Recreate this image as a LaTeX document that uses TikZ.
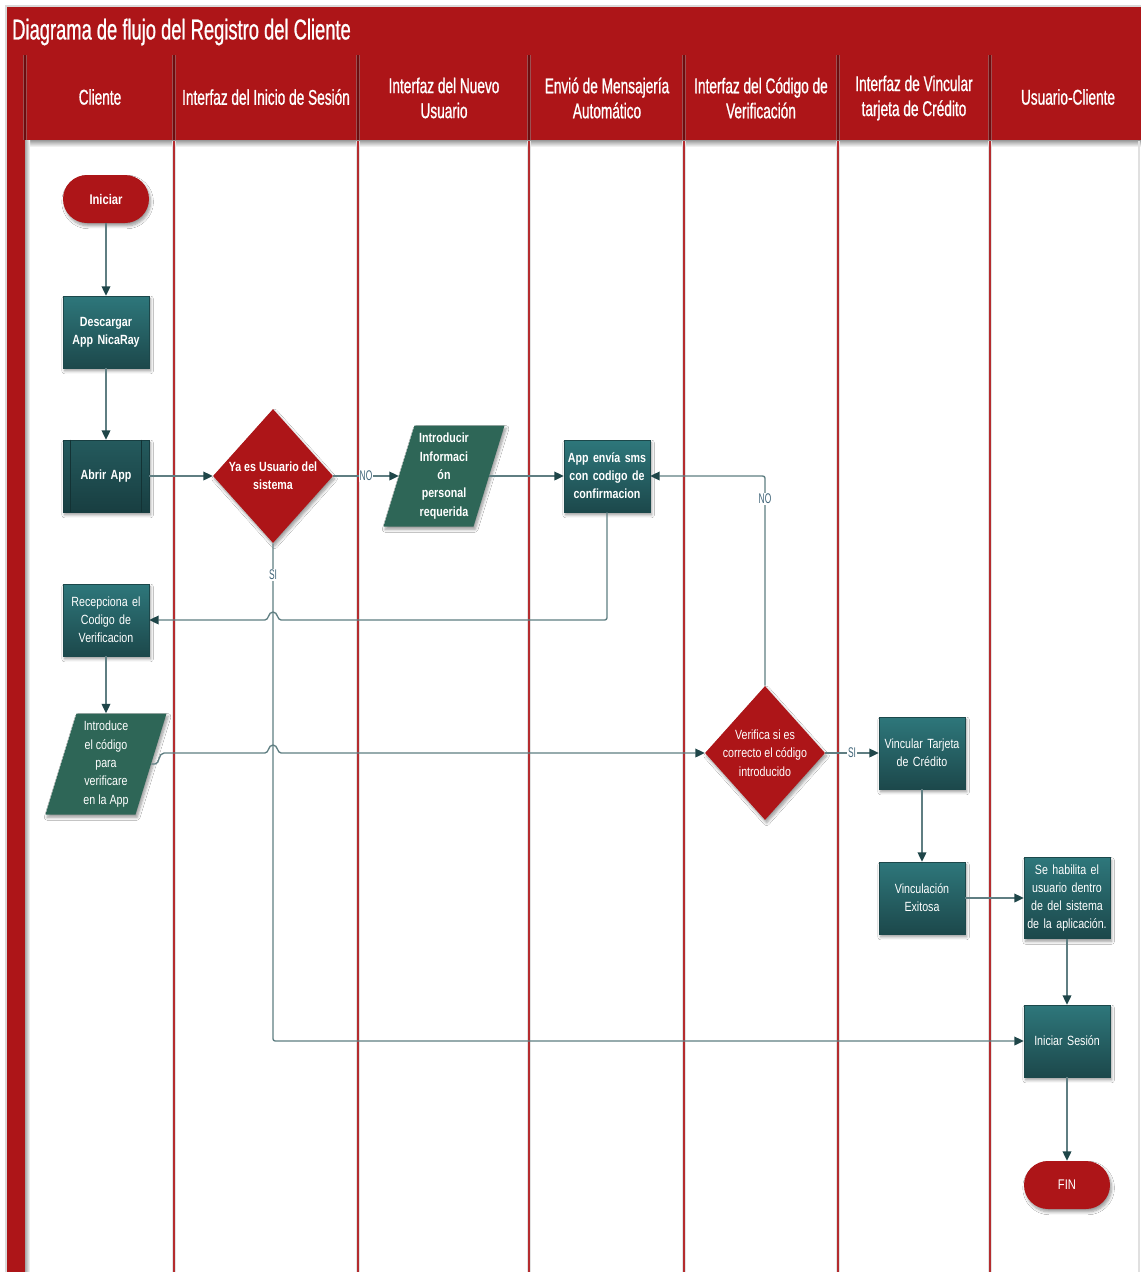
\documentclass[tikz,border=0pt]{standalone}
\usepackage{fontspec}
\setmainfont{Liberation Sans}[FakeStretch=0.8]
\newfontfamily\headfont{Liberation Sans}[FakeStretch=0.64, FakeBold=0.8]
\newfontfamily\labfont{Liberation Sans}[FakeStretch=0.6]
\usetikzlibrary{shapes.geometric,arrows.meta,shadows.blur}

\definecolor{lanered}{HTML}{AD1518}
\definecolor{sepred}{HTML}{6E0C0E}
\definecolor{tealtop}{HTML}{2E777B}
\definecolor{tealbot}{HTML}{1C484B}
\definecolor{proctop}{HTML}{245A5D}
\definecolor{procbot}{HTML}{183E41}
\definecolor{ioteal}{HTML}{2E6657}
\definecolor{linec}{HTML}{5F7E82}
\definecolor{tipc}{HTML}{1F4649}
\definecolor{labc}{HTML}{3F6478}

\tikzset{
  shadowed/.style={blur shadow={shadow xshift=1.2pt, shadow yshift=-2.2pt, shadow blur steps=6, shadow opacity=40}},
  procbox/.style={rectangle, shadowed, top color=tealtop, bottom color=tealbot, draw=tealbot, line width=0.4pt,
    minimum width=64.5pt, minimum height=54pt, text width=62pt, align=center, text=white, inner sep=0pt,
    font=\fontsize{10}{13.6}\selectfont},
  termbox/.style={rectangle, rounded corners=18pt, fill=lanered, shadowed, minimum width=64.5pt, minimum height=36pt,
    text=white, inner sep=0pt, font=\fontsize{10.5}{13.6}\selectfont},
  decbox/.style={diamond, fill=lanered, shadowed, minimum width=90pt, minimum height=100.5pt, inner sep=0pt},
  iobox/.style={rectangle, minimum width=67.5pt, minimum height=75.75pt, inner sep=0pt,
    text=white, align=center, font=\fontsize{10}{13.8}\selectfont},
  intext/.style={text=white, align=center, font=\fontsize{10}{13.8}\selectfont},
  intextb/.style={text=white, align=center, font=\fontsize{10}{13.8}\selectfont\bfseries},
  flow/.style={draw=linec, line width=1pt, -{Triangle[length=7pt, width=6.5pt, color=tipc, fill=tipc]}},
  flowlabel/.style={fill=white, text=labc, inner sep=0.6pt, font=\labfont\fontsize{10.5}{11}\selectfont},
  headtext/.style={text=white, align=center, font=\headfont\fontsize{16}{18.75}\selectfont},
  lanesep/.style={draw=lanered!90!white, line width=1pt},
  laneshade/.style={draw=black!11, line width=3pt},
  headsep/.style={draw=sepred, line width=1.2pt},
}

% slanted data shape centred at (#1,#2), in picture units
\newcommand\ioslant[2]{%
  \path[fill=ioteal, shadowed] (#1-60.5,#2+50.5) -- (#1+29.5,#2+50.5)
    -- (#1+60.5,#2-50.5) -- (#1-29.5,#2-50.5) -- cycle;}

\begin{document}
\begin{tikzpicture}[x=0.75pt, y=-0.75pt]
  \useasboundingbox (0,0) rectangle (1141,1272);
  \fill[white] (0,0) rectangle (1141,1272);

  % frame: soft outline, title bar, header band and left strip
  \draw[black!15, line width=2pt] (6,1272) -- (6,6) -- (1141,6);
  \fill[lanered] (7,7) rectangle (1141,140);
  \fill[lanered] (7,140) rectangle (25,1272);
  \shade[top color=black!40, bottom color=white] (25,140) rectangle (1141,147);
  \shade[left color=black!35, right color=white] (25,140) rectangle (30,1272);

  % swimlane separators
  \foreach \lx in {174,358,529,684,838,990} {
    \draw[laneshade] (\lx,141) -- (\lx,1272);
    \draw[lanesep] (\lx,141) -- (\lx,1272);
  }
  \draw[black!12, line width=2pt] (1139,141) -- (1139,1272);

  % header cell separators
  \foreach \lx in {25,174,358,529,684,838,990} {
    \draw[black!45, opacity=0.5, line width=3pt] (\lx,55) -- (\lx,140);
    \draw[headsep] (\lx,55) -- (\lx,140);
  }

  % title and lane headers
  \node[anchor=west, text=white, inner sep=0pt, font=\headfont\fontsize{21.5}{24}\selectfont] (title) at (12,32)
    {Diagrama de flujo del Registro del Cliente};
  \node[headtext] (h1) at (100,97) {Cliente};
  \node[headtext] (h2) at (266,97) {Interfaz del Inicio de Sesión};
  \node[headtext] (h3) at (444,98) {Interfaz del Nuevo\\Usuario};
  \node[headtext] (h4) at (607,98) {Envió de Mensajería\\Automático};
  \node[headtext] (h5) at (761,98) {Interfaz del Código de\\Verificación};
  \node[headtext] (h6) at (914,98) {Interfaz de Vincular\\tarjeta de Crédito};
  \node[headtext] (h7) at (1068,97) {Usuario-Cliente};

  % flow nodes
  \node[termbox, font=\fontsize{10.5}{13.6}\selectfont\bfseries] (ini) at (106,199) {Iniciar};
  \node[procbox, font=\fontsize{10}{13.6}\selectfont\bfseries] (desc) at (106,332) {Descargar\\App NicaRay};
  \node[procbox, top color=proctop, bottom color=procbot, draw=procbot,
        font=\fontsize{10}{13.6}\selectfont\bfseries] (abrir) at (106,476) {Abrir App};
  \draw[procbot!80!black, line width=0.6pt] ([xshift=6pt]abrir.north west) -- ([xshift=6pt]abrir.south west);
  \draw[procbot!80!black, line width=0.6pt] ([xshift=-6pt]abrir.north east) -- ([xshift=-6pt]abrir.south east);
  \node[decbox, label={[intextb]center:{Ya es Usuario del\\sistema}}] (dec1) at (273,476) {};
  \ioslant{444}{476}
  \node[iobox, font=\fontsize{10}{13.8}\selectfont\bfseries] (introd) at (444,476) {Introducir\\Informaci\\ón\\personal\\requerida};
  \node[procbox, font=\fontsize{10}{13.6}\selectfont\bfseries] (sms) at (607,476) {App envía sms\\con codigo de\\confirmacion};
  \node[procbox] (recep) at (106,620) {Recepciona el\\Codigo de\\Verificacion};
  \ioslant{106}{764}
  \node[iobox] (intro2) at (106,764) {Introduce\\el código\\para\\verificare\\en la App};
  \node[decbox, label={[intext]center:{Verifica si es\\correcto el código\\introducido}}] (verif) at (765,753) {};
  \node[procbox] (vinc) at (922,753) {Vincular Tarjeta\\de Crédito};
  \node[procbox] (vexit) at (922,898) {Vinculación\\Exitosa};
  \node[procbox, minimum height=60.75pt] (habil) at (1067,898) {Se habilita el\\usuario dentro\\de del sistema\\de la aplicación.};
  \node[procbox] (isesion) at (1067,1041) {Iniciar Sesión};
  \node[termbox] (fin) at (1067,1185) {FIN};

  % connectors
  \draw[flow] (ini) -- (desc);
  \draw[flow] (desc) -- (abrir);
  \draw[flow] (abrir) -- (dec1);
  \draw[flow] (dec1) -- node[flowlabel] (lblno1) {NO} (introd);
  \draw[flow] (introd) -- (sms);
  \draw[flow] (dec1.south) -- (273,1036) .. controls (273,1041) .. (278,1041) -- (isesion.west);
  \node[flowlabel] (lblsi1) at (273,575) {SI};
  % the two crossing lines hop over the vertical "SI" line
  \draw[flow] (sms.south) -- (607,615) .. controls (607,620) .. (602,620) -- (281,620)
    .. controls (277,620) and (278,612) .. (273,612)
    .. controls (268,612) and (269,620) .. (265,620) -- (recep.east);
  \draw[flow] (recep) -- (intro2);
  \draw[flow] (intro2.east) -- (155,764) .. controls (160,764) and (158,753) .. (164,753) -- (265,753)
    .. controls (269,753) and (268,745) .. (273,745)
    .. controls (278,745) and (277,753) .. (281,753) -- (verif.west);
  \draw[flow] (verif.north) -- (765,481) .. controls (765,476) .. (760,476) -- (sms.east);
  \node[flowlabel] (lblno2) at (765,499) {NO};
  \draw[flow] (verif) -- node[flowlabel] (lblsi2) {SI} (vinc);
  \draw[flow] (vinc) -- (vexit);
  \draw[flow] (vexit) -- (habil);
  \draw[flow] (habil) -- (isesion);
  \draw[flow] (isesion) -- (fin);
\end{tikzpicture}
\end{document}
